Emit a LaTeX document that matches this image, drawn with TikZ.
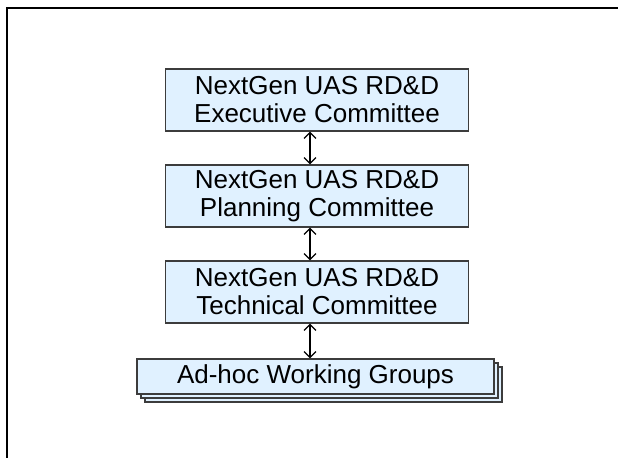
\documentclass[tikz,border=0pt]{standalone}
\usepackage{fontspec}
\setmainfont{Liberation Sans}
\usetikzlibrary{positioning,arrows.meta,calc,shadows}
\definecolor{ngFill}{RGB}{224,241,255}
\definecolor{ngEdge}{RGB}{60,60,60}
\tikzset{
    base/.style={font=\fontsize{13}{14}\selectfont, align=center},
    committee/.style={base, rectangle, draw=ngEdge, fill=ngFill, line width=0.6pt,
                      minimum width=151.5pt, minimum height=31pt, inner sep=0pt},
    group/.style={base, rectangle, draw=ngEdge, fill=ngFill, line width=0.6pt,
                  minimum width=178.5pt, minimum height=17.5pt, inner sep=0pt,
                  double copy shadow={shadow xshift=2pt, shadow yshift=-2pt}},
    link/.style={{Straight Barb[length=3pt,width=6pt]}-{Straight Barb[length=3pt,width=6pt]}, line width=0.6pt}
}
\begin{document}
\begin{tikzpicture}[x=0.5pt, y=-0.5pt]
  \useasboundingbox (0,0) rectangle (618,458);
  % page frame
  \draw[line width=1pt] (7,458) -- (7,8) -- (618,8);

  % committees
  \node[committee] (exec) at (317,100) {NextGen UAS RD\&D\\Executive Committee};
  \node[committee] (plan) at (317,196) {NextGen UAS RD\&D\\Planning Committee};
  \node[committee] (tech) at (317,292) {NextGen UAS RD\&D\\Technical Committee};
  \node[group] (adhoc) at (315.5,376.5) {Ad-hoc Working Groups};

  % links
  \draw[link] ($(exec.south)+(-7,0)$) -- ($(plan.north)+(-7,0)$);
  \draw[link] ($(plan.south)+(-7,0)$) -- ($(tech.north)+(-7,0)$);
  \draw[link] ($(tech.south)+(-7,0)$) -- (adhoc.north -| {$(tech.south)+(-7,0)$});
\end{tikzpicture}
\end{document}
